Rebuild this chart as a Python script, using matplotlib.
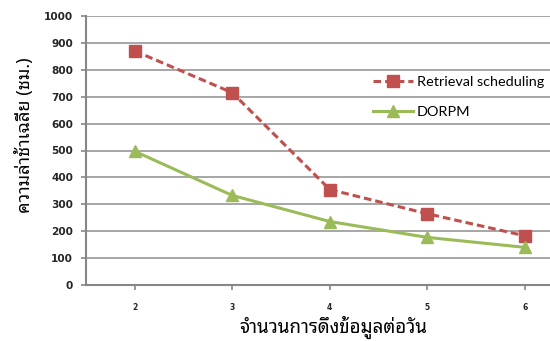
import matplotlib
matplotlib.use("Agg")
import matplotlib.pyplot as plt
from matplotlib.lines import Line2D

categories = ["2", "3", "4", "5", "6"]
retrieval = [870, 715, 355, 265, 183]
dorpm = [497, 333, 236, 177, 140]
y_ticks = [0, 100, 200, 300, 400, 500, 600, 700, 800, 900, 1000]

thai = ["Noto Sans Thai Looped", "DejaVu Sans"]
red = "#C0504D"
green = "#9BBB59"
grid_c = "#A6A6A6"
axis_c = "#868686"

W, H = 550, 341
fig = plt.figure(figsize=(W / 100, H / 100), dpi=100)
# plot area runs past the right border, so the last category slot is clipped
left, right, top, bottom = 86, 550, 16, 285
ax = fig.add_axes([left / W, 1 - bottom / H, (right - left) / W, (bottom - top) / H])

x = list(range(len(categories)))
step = 97.5  # pixel width of one category slot
ax.set_xlim(-0.5, -0.5 + (right - left) / step)
ax.set_ylim(0, 1000)

ax.plot(x, retrieval, color=red, lw=2.2, ls=(0, (2.5, 1.3)), marker="s",
        ms=8.8, mfc=red, mec=red, zorder=3, clip_on=False)
ax.plot(x, dorpm, color=green, lw=2.2, marker="^", ms=8.5, mfc=green,
        mec=green, zorder=3, clip_on=False)

ax.set_yticks(y_ticks)
ax.set_yticklabels([str(v) for v in y_ticks], fontsize=7.6, fontweight="bold",
                   color="#262626")
ax.set_xticks(x)
ax.set_xticklabels(categories, fontsize=5.5, fontweight="bold", color="#262626")

ax.grid(axis="y", color=grid_c, lw=1.4)
ax.set_axisbelow(True)
for side in ("top", "right"):
    ax.spines[side].set_visible(False)
for side in ("left", "bottom"):
    ax.spines[side].set_color(axis_c)
    ax.spines[side].set_linewidth(1.5)
ax.tick_params(axis="y", length=3.6, width=1.2, color=axis_c, pad=5.8)
ax.tick_params(axis="x", length=3.6, width=1.2, color=axis_c, pad=9)

fig.text(333 / W, 1 - 327 / H, "จำนวนการดึงข้อมูลต่อวัน", family=thai,
         fontsize=13.5, fontweight="bold", ha="center", va="center")
fig.text(25 / W, 1 - 135 / H, "ความล่าช้าเฉลี่ย (ชม.)", family=thai,
         fontsize=13, fontweight="bold", ha="center", va="center", rotation=90)

handles = [
    Line2D([], [], color=red, lw=2.2, ls=(0, (2.5, 1.3)), marker="s", ms=8.8,
           mfc=red, mec=red),
    Line2D([], [], color=green, lw=2.2, marker="^", ms=8.5, mfc=green, mec=green),
]
ax.legend(handles, ["Retrieval scheduling", "DORPM"], loc="upper left",
          bbox_to_anchor=((367 - left) / (right - left), 1 - (70 - top) / (bottom - top)),
          frameon=False, handlelength=2.78, handletextpad=0.25,
          labelspacing=1.26, borderaxespad=0,
          prop={"family": "Lato", "size": 10.4})

fig.savefig("out.png", dpi=100)
